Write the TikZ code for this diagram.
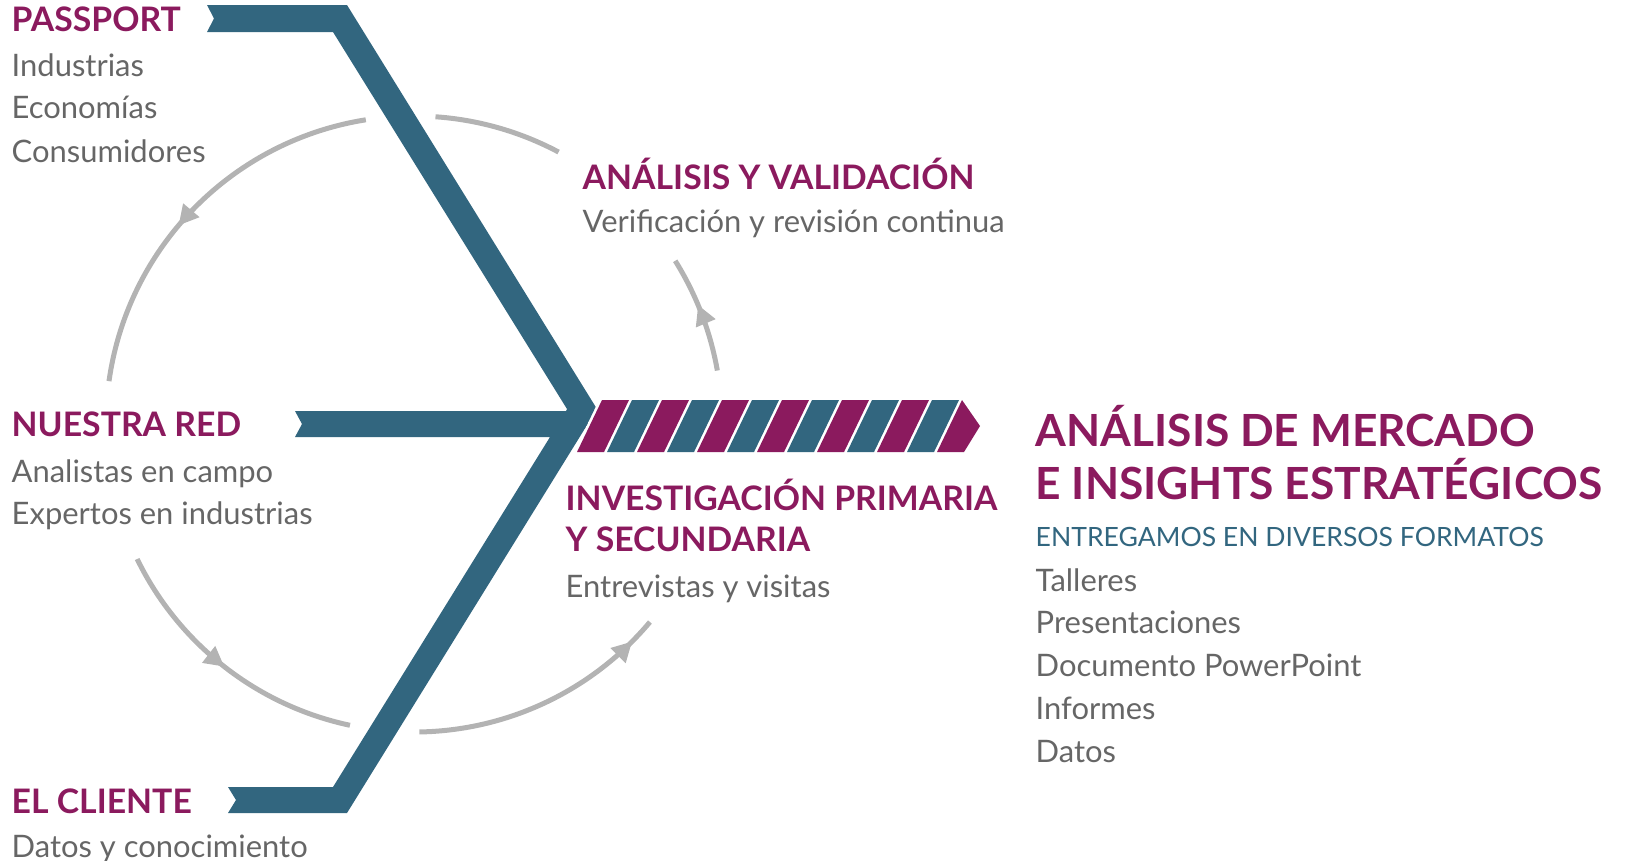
\documentclass[tikz,border=0pt]{standalone}
\usepackage{fontspec}
\setmainfont{Lato}
\usetikzlibrary{arrows.meta,calc,decorations.markings}

\definecolor{rpurple}{HTML}{8B1A5E}
\definecolor{rteal}{HTML}{32667F}
\definecolor{rgray}{HTML}{666666}
\definecolor{rarc}{HTML}{B3B3B3}

\tikzset{
  head/.style={anchor=base west, inner sep=0pt, text=rpurple, font=\fontsize{9.6}{11}\selectfont\bfseries},
  item/.style={anchor=base west, inner sep=0pt, text=rgray, font=\fontsize{8.8}{11}\selectfont},
  big/.style={anchor=base west, inner sep=0pt, text=rpurple, font=\fontsize{12.6}{15}\selectfont\bfseries},
  sub/.style={anchor=base west, inner sep=0pt, text=rteal, font=\fontsize{7.55}{9}\selectfont},
  cyclearc/.style={draw=rarc, line width=0.05cm},
  flowtip/.style={postaction=decorate, decoration={markings,
      mark=at position #1 with {\arrow[rarc]{Triangle[length=0.2cm,width=0.2cm]}}}},
}

\begin{document}
\begin{tikzpicture}[x=0.01cm, y=-0.01cm]
    \useasboundingbox (0,0) rectangle (1628,860);

    % Teal frame: three bands meeting in one point
    \coordinate (C) at (414,424);
    \begin{scope}
        \clip (0,0) -- (791,0) -- (378,860) -- (0,860) -- cycle;
        \fill[rteal] (207,5) -- (347,5) -- (597,409) -- (347,813) -- (228,813) -- (236,800)
            -- (228,787) -- (333,787) -- (550,437) -- (295,437) -- (302,424) -- (295,411)
            -- (566,411) -- (567,409) -- (333,32) -- (207,32) -- (214,18.5) -- cycle;
    \end{scope}

    % Striped arrow
    \foreach \x in {602,662,...,902} {
        \fill[rpurple] (\x,400) -- ++(27,0) -- ++(-25,52) -- ++(-27,0) -- cycle;
        \fill[rteal] (\x+30,400) -- ++(27,0) -- ++(-25,52) -- ++(-27,0) -- cycle;
    }
    \fill[rpurple] (962,400) -- (980,426) -- (964,452) -- (937,452) -- cycle;

    % Grey cycle round the frame
    \draw[cyclearc, flowtip=0.56] ($(C)+(-99:308)$) arc[start angle=-99, end angle=-172, radius=308];
    \draw[cyclearc, flowtip=0.5] ($(C)+(-206:308)$) arc[start angle=-206, end angle=-258, radius=308];
    \draw[cyclearc, flowtip=0.9] ($(C)+(89:308)$) arc[start angle=89, end angle=40, radius=308];
    \draw[cyclearc, flowtip=0.58] ($(C)+(-10:308)$) arc[start angle=-10, end angle=-32, radius=308];
    \draw[cyclearc] ($(C)+(-62:308)$) arc[start angle=-62, end angle=-86, radius=308];

    % Left column
    \node[head] (pass) at (11,31) {PASSPORT};
    \node[item] (pass1) at (11,76) {Industrias};
    \node[item] (pass2) at (11,118) {Economías};
    \node[item] (pass3) at (11,162) {Consumidores};
    \node[head] (red) at (11,436) {NUESTRA RED};
    \node[item] (red1) at (11,482) {Analistas en campo};
    \node[item] (red2) at (11,524) {Expertos en industrias};
    \node[head] (cli) at (11,813) {EL CLIENTE};
    \node[item] (cli1) at (11,857) {Datos y conocimiento};

    % Middle column
    \node[head] (val) at (582,189) {ANÁLISIS Y VALIDACIÓN};
    \node[item] (val1) at (582,232) {Verificación y revisión continua};
    \node[head] (inv) at (565,510) {INVESTIGACIÓN PRIMARIA};
    \node[head] (inv2) at (565,551) {Y SECUNDARIA};
    \node[item] (inv3) at (565,597) {Entrevistas y visitas};

    % Right column
    \node[big] (mkt) at (1035,446) {ANÁLISIS DE MERCADO};
    \node[big] (mkt2) at (1035,499) {E INSIGHTS ESTRATÉGICOS};
    \node[sub] (fmt) at (1035,546) {ENTREGAMOS EN DIVERSOS FORMATOS};
    \node[item] (fmt1) at (1035,591) {Talleres};
    \node[item] (fmt2) at (1035,633) {Presentaciones};
    \node[item] (fmt3) at (1035,676) {Documento PowerPoint};
    \node[item] (fmt4) at (1035,719) {Informes};
    \node[item] (fmt5) at (1035,762) {Datos};

\end{tikzpicture}
\end{document}
